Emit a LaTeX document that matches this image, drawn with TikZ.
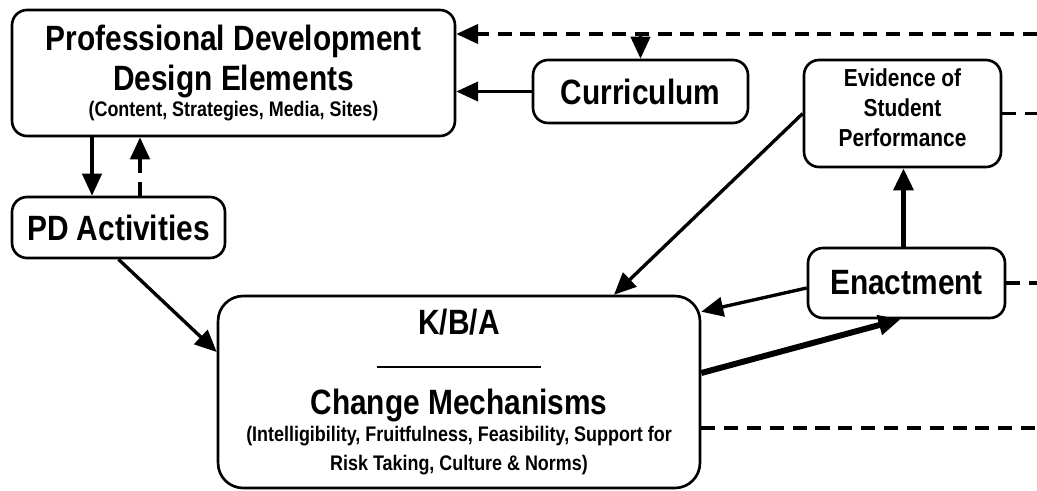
\documentclass[tikz,border=0pt]{standalone}
\usepackage{fontspec}
\setmainfont{Liberation Sans}[FakeStretch=0.85]
\usetikzlibrary{positioning,calc,arrows.meta}

\tikzset{
    box/.style={draw, line width=1.5pt, rounded corners=0.3cm, align=center, font=\bfseries\fontsize{20}{23}\selectfont},
    tip/.style={-{Triangle[length=12.5pt, width=11pt]}},
    arr/.style={line width=1.9pt, tip},
    dsh/.style={line width=2pt, dash pattern=on 8pt off 5pt},
    sub/.style={font=\bfseries\fontsize{12}{14}\selectfont}
}

\begin{document}
\begin{tikzpicture}[x=0.02cm, y=-0.02cm]
    \useasboundingbox (0,0) rectangle (1037,490);

    % boxes
    \node [box, minimum width=8.86cm, minimum height=2.52cm] (pd) at (233.5,73)
        {Professional Development\\
         Design Elements\\[-8.3pt]
         {\fontsize{12}{14}\selectfont (Content, Strategies, Media, Sites)}};
    \node [box, minimum width=4.3cm, minimum height=1.26cm] (cur) at (640.5,91.5) {Curriculum};
    \node [box, font=\bfseries\fontsize{14}{17}\selectfont, text depth=7pt, minimum width=3.94cm, minimum height=2.14cm] (evid) at (902.5,113.5)
        {Evidence of\\ Student\\ Performance};
    \node [box, minimum width=4.26cm, minimum height=1.22cm] (pda) at (118.5,227.5) {PD Activities};
    \node [box, minimum width=3.94cm, minimum height=1.4cm] (enact) at (906.5,283) {Enactment};
    \node [box, rounded corners=0.5cm, minimum width=9.64cm, minimum height=3.84cm] (kba) at (459,392)
        {K/B/A\\[-4pt]
         \rule{3.3cm}{1pt}\\[3.5pt]
         Change Mechanisms\\[-7.7pt]
         {\fontsize{12}{14}\selectfont (Intelligibility, Fruitfulness, Feasibility, Support for}\\[-6.6pt]
         {\fontsize{12}{14}\selectfont Risk Taking, Culture \& Norms)}};

    % helper points
    \coordinate (redge) at (1037,0);
    \coordinate (rtop) at (1037,34);
    \coordinate (c1) at (92,0);
    \coordinate (c2) at (140,0);

    % solid connectors
    \draw [arr] (cur.west) -- (cur.west -| pd.east);
    \draw [arr] (pd.south -| c1) -- (pda.north -| c1);
    \draw [arr] (pda.south) -- ($(kba.west)+(0,-40)$);
    \draw [arr] (evid.west) -- ($(kba.north west)!0.82!(kba.north east)$);
    \draw [arr] ($(enact.west)+(0,5)$) -- ($(kba.north east)+(0,17)$);
    \draw [arr, line width=3.4pt] ($(kba.east)+(0,-19)$) -- ($(enact.south)+(-6,0)$);
    \draw [arr, line width=2.8pt] ($(enact.north)+(-3,0)$) -- ($(evid.south)+(1,0)$);
    \draw [arr] (cur.north |- rtop) -- (cur.north);

    % dashed feedback
    \draw [dsh, tip] (rtop) -- (rtop -| pd.east);
    \draw [dsh, tip] (pda.north -| c2) -- (pd.south -| c2);
    \draw [dsh] (evid.east) -- (evid.east -| redge);
    \draw [dsh] (enact.east) -- (enact.east -| redge);
    \draw [dsh] ($(kba.east)+(0,36)$) -- ($(kba.east -| redge)+(0,36)$);
\end{tikzpicture}
\end{document}
